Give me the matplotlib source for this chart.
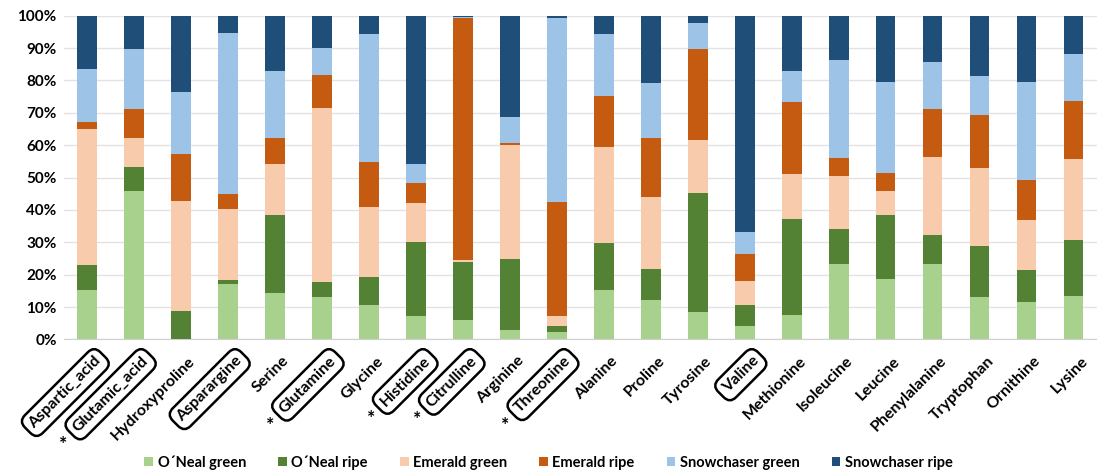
import numpy as np
import matplotlib
matplotlib.use("Agg")
import matplotlib.pyplot as plt
from matplotlib.transforms import ScaledTranslation

plt.rcParams['font.family'] = ['Lato', 'DejaVu Sans']
plt.rcParams['font.weight'] = 'bold'

# Amino acids (x axis)
amino_acids = ["Aspartic_acid", "Glutamic_acid", "Hydroxyproline", "Asparargine", "Serine",
               "Glutamine", "Glycine", "Histidine", "Citrulline", "Arginine", "Threonine",
               "Alanine", "Proline", "Tyrosine", "Valine", "Methionine", "Isoleucine",
               "Leucine", "Phenylalanine", "Tryptophan", "Ornithine", "Lysine"]

# labels drawn inside a box, and those marked with an asterisk
boxed = ["Aspartic_acid", "Glutamic_acid", "Asparargine", "Glutamine", "Histidine",
         "Citrulline", "Threonine", "Valine"]
starred = ["Glutamic_acid", "Glutamine", "Histidine", "Citrulline", "Threonine"]

# share of each sample (%)
oneal_green = [15.4, 45.9, 0.0, 17.0, 14.2, 13.0, 10.6, 7.1, 6.0, 2.9, 2.2,
               15.2, 12.1, 8.4, 4.1, 7.6, 23.2, 18.8, 23.2, 13.1, 11.6, 13.3]
oneal_ripe = [7.6, 7.4, 8.7, 1.5, 24.1, 4.7, 8.7, 23.1, 18.0, 21.9, 1.9,
              14.5, 9.6, 36.7, 6.4, 29.6, 11.0, 19.5, 9.2, 15.6, 9.7, 17.4]
emerald_green = [41.9, 8.8, 34.1, 21.8, 15.8, 53.8, 21.5, 11.8, 0.5, 35.4, 3.1,
                 29.6, 22.4, 16.5, 7.5, 13.9, 16.2, 7.6, 23.8, 24.3, 15.6, 25.1]
emerald_ripe = [2.4, 9.0, 14.4, 4.6, 8.0, 10.1, 13.9, 6.4, 74.7, 0.4, 35.1,
                16.0, 18.0, 28.0, 8.4, 22.3, 5.5, 5.6, 15.0, 16.4, 12.3, 17.9]
snowchaser_green = [16.1, 18.6, 19.3, 49.9, 20.7, 8.5, 39.6, 5.7, 0.5, 8.0, 56.9,
                    19.0, 17.2, 8.3, 6.8, 9.6, 30.4, 27.9, 14.6, 11.9, 30.2, 14.5]
snowchaser_ripe = [16.6, 10.3, 23.5, 5.2, 17.2, 9.9, 5.7, 45.9, 0.3, 31.4, 0.8,
                   5.7, 20.7, 2.1, 66.8, 17.0, 13.7, 20.6, 14.2, 18.7, 20.6, 11.8]

series = [
    ("O´Neal green", oneal_green, "#A9D18E"),
    ("O´Neal ripe", oneal_ripe, "#548235"),
    ("Emerald green", emerald_green, "#F8CBAD"),
    ("Emerald ripe", emerald_ripe, "#C55A11"),
    ("Snowchaser green", snowchaser_green, "#9DC3E6"),
    ("Snowchaser ripe", snowchaser_ripe, "#1F4E79"),
]

fig = plt.figure(figsize=(10.97, 4.76), dpi=100)
ax = fig.add_axes([0.058, 0.287, 0.942, 0.68])

x = np.arange(len(amino_acids))
bottom = np.zeros(len(amino_acids))
for name, vals, color in series:
    vals = np.array(vals)
    ax.bar(x, vals, 0.42, bottom=bottom, color=color, label=name, zorder=3)
    bottom += vals

ax.set_xlim(-0.5, len(amino_acids) - 0.5)
ax.set_ylim(0, 100)
ax.set_yticks(np.arange(0, 101, 10))
ax.set_yticklabels([f"{v}%" for v in range(0, 101, 10)], fontsize=11)
ax.yaxis.grid(True, color="#e3e3e3", lw=1, zorder=0)
for s in ["top", "right", "left"]:
    ax.spines[s].set_visible(False)
ax.spines["bottom"].set_color("#d0d0d0")
ax.tick_params(axis="both", length=0)
ax.tick_params(axis="y", pad=5)

ax.set_xticks(x)
ax.set_xticklabels(amino_acids, rotation=45, ha="right", rotation_mode="anchor", fontsize=11.5)
ax.tick_params(axis="x", pad=9)

# nudge the rotated labels a little to the right of their bar
shift = ScaledTranslation(0.07, -0.02, fig.dpi_scale_trans)
for lbl in ax.get_xticklabels():
    lbl.set_transform(lbl.get_transform() + shift)
    name = lbl.get_text()
    if name in boxed:
        lbl.set_bbox(dict(boxstyle="round,pad=0.35,rounding_size=0.55", fc="white",
                          ec="black", lw=1.8))
    if name in starred:
        ax.annotate("*", xy=(0, 0), xycoords=lbl, xytext=(-5, -7),
                    textcoords="offset points", ha="center", va="center",
                    fontsize=14, fontweight="bold")

fig.legend(loc="center", bbox_to_anchor=(0.5, 0.028), ncol=6, frameon=False,
           fontsize=10.5, handlelength=0.6, handleheight=0.6, handletextpad=0.3,
           columnspacing=2.2)

fig.savefig("out.png", dpi=100)
